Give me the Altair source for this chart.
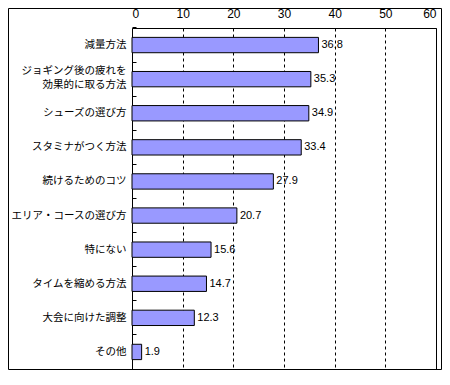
import altair as alt
import pandas as pd

categories = ["減量方法", "ジョギング後の疲れを\n効果的に取る方法", "シューズの選び方", "スタミナがつく方法",
              "続けるためのコツ", "エリア・コースの選び方", "特にない", "タイムを縮める方法",
              "大会に向けた調整", "その他"]
values = [36.8, 35.3, 34.9, 33.4, 27.9, 20.7, 15.6, 14.7, 12.3, 1.9]
x_ticks = [0, 10, 20, 30, 40, 50, 60]

df = pd.DataFrame({"category": categories, "value": values})

W, H = 304, 341
PL, PT, PR, PB = 124, 20, 6, 1
PI = 0.55
yscale = alt.Scale(domain=categories, paddingInner=PI, paddingOuter=PI / 2)
xscale = alt.Scale(domain=[0, 60], nice=False)

xaxis = alt.Axis(orient="top", values=x_ticks, title=None, grid=True,
                 gridDash=[3, 3], gridColor="black", gridOpacity=1, gridWidth=1,
                 ticks=False, domain=False, labelPadding=8,
                 labelFont="Liberation Sans", labelFontSize=12, labelColor="black")

base = alt.Chart(df)

bars = base.mark_bar(color="#9999FF", stroke="black", strokeWidth=1).encode(
    x=alt.X("value:Q", scale=xscale, axis=xaxis),
    y=alt.Y("category:N", sort=categories, scale=yscale,
            axis=alt.Axis(orient="left", title=None, ticks=False, domain=False,
                          labelExpr="split(datum.label, '\\n')", labelLineHeight=14,
                          labelOffset={"condition": {"test": "indexof(datum.value, '\\n') >= 0", "value": -8}, "value": 0},
                          labelFont="Noto Sans CJK JP", labelFontSize=10.5, labelColor="black",
                          labelPadding=6, labelLimit=200)),
)

texts = base.mark_text(align="left", baseline="middle", dx=3, font="Liberation Sans",
                       fontSize=11, color="black").encode(
    x=alt.X("value:Q", scale=xscale, axis=xaxis),
    y=alt.Y("category:N", sort=categories, scale=yscale, axis=None),
    text=alt.Text("value:Q", format=".1f"),
)

band_pos = -(PI / 2) / (1 - PI)
ticks = base.mark_bar(opacity=0).encode(
    x=alt.X("value:Q", scale=xscale, axis=xaxis),
    y=alt.Y("category:N", sort=categories, scale=yscale,
            axis=alt.Axis(orient="left", title=None, labels=False, domain=False, ticks=True,
                          tickSize=4, tickColor="black", offset=-4, bandPosition=band_pos,
                          grid=False)),
)

frame = alt.Chart(pd.DataFrame({"v": [0]})).mark_rect(fill=None, stroke="black", strokeWidth=1).encode(
    x=alt.value(-PL + 0.5), x2=alt.value(W + PR - 0.5),
    y=alt.value(-PT + 0.5), y2=alt.value(H + PB - 0.5)
)

chart = alt.layer(bars, texts, ticks, frame).resolve_axis(y="independent").properties(
    width=W, height=H,
    autosize=alt.AutoSizeParams(type="none"),
    padding={"left": PL, "top": PT, "right": PR, "bottom": PB},
    background="white",
).configure_view(stroke="black", strokeWidth=1)

chart.save("out.html", embed_options={"renderer": "svg", "actions": False})
